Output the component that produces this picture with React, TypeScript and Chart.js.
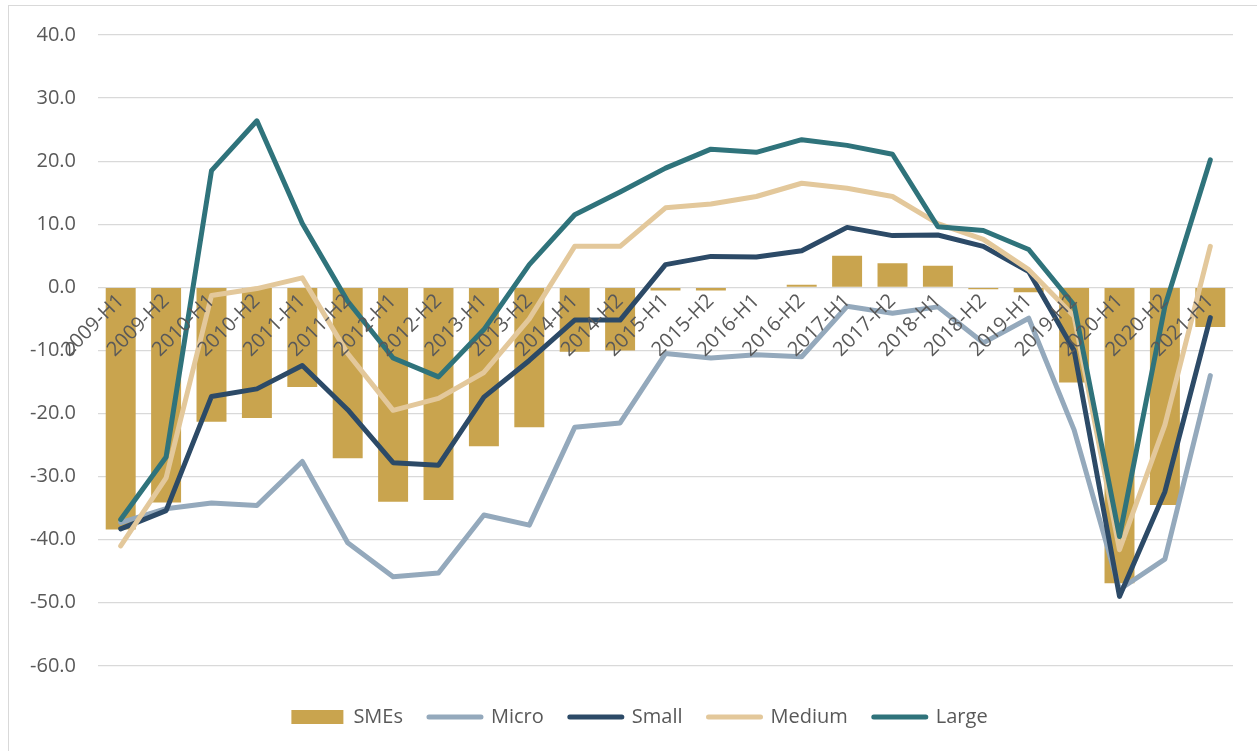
import React, { useEffect, useRef } from "react";
import { Chart, registerables } from "chart.js";

Chart.register(...registerables);

const categories = [
  "2009-H1", "2009-H2", "2010-H1", "2010-H2", "2011-H1", "2011-H2", "2012-H1", "2012-H2",
  "2013-H1", "2013-H2", "2014-H1", "2014-H2", "2015-H1", "2015-H2", "2016-H1", "2016-H2",
  "2017-H1", "2017-H2", "2018-H1", "2018-H2", "2019-H1", "2019-H2", "2020-H1", "2020-H2", "2021-H1",
];

const smes = [-38.4, -34.1, -21.3, -20.7, -15.8, -27.1, -34.0, -33.7, -25.2, -22.2, -10.2, -10.0, -0.5, -0.5, 0.0, 0.4, 5.0, 3.8, 3.4, -0.3, -0.8, -15.1, -46.9, -34.5, -6.3];
const micro = [-37.3, -35.1, -34.2, -34.6, -27.6, -40.5, -45.9, -45.3, -36.1, -37.7, -22.2, -21.5, -10.5, -11.2, -10.7, -11.0, -3.0, -4.1, -3.1, -8.8, -4.9, -22.6, -47.9, -43.1, -14.0];
const small = [-38.3, -35.4, -17.3, -16.1, -12.4, -19.4, -27.8, -28.2, -17.4, -11.6, -5.2, -5.2, 3.6, 4.9, 4.8, 5.8, 9.5, 8.2, 8.3, 6.5, 2.5, -10.0, -49.0, -32.4, -4.8];
const medium = [-41.0, -30.2, -1.3, -0.2, 1.5, -10.5, -19.5, -17.6, -13.5, -5.0, 6.5, 6.5, 12.6, 13.2, 14.4, 16.5, 15.7, 14.4, 10.1, 7.6, 2.8, -4.6, -41.6, -21.8, 6.5];
const large = [-36.8, -26.9, 18.5, 26.4, 10.1, -2.2, -11.2, -14.2, -6.7, 3.6, 11.5, 15.1, 18.9, 21.9, 21.4, 23.4, 22.5, 21.1, 9.6, 9.0, 6.0, -2.8, -39.5, -3.0, 20.2];

const seriesNames = ["SMEs", "Micro", "Small", "Medium", "Large"];
const seriesColors = ["#c9a44e", "#94a9bc", "#2c4a67", "#e3c89b", "#2f737b"];

const FONT = "'Open Sans', 'DejaVu Sans', sans-serif";
const TEXT = "#595959";

const legendShift = {
  id: "legendShift",
  afterLayout(chart: any) {
    const lg = chart.legend;
    if (lg) {
      lg.left += 10;
      lg.right += 10;
    }
  },
};

export default function App() {
  const ref = useRef<HTMLCanvasElement | null>(null);

  useEffect(() => {
    if (!ref.current) return;
    const lineDs = (i: number, data: number[], order: number) => ({
      type: "line" as const,
      label: seriesNames[i],
      data,
      borderColor: seriesColors[i],
      backgroundColor: seriesColors[i],
      borderWidth: 5,
      pointRadius: 0,
      pointHoverRadius: 0,
      tension: 0,
      borderJoinStyle: "round" as const,
      borderCapStyle: "round" as const,
      order,
    });
    const chart = new Chart(ref.current, {
      type: "bar",
      data: {
        labels: categories,
        datasets: [
          {
            type: "bar",
            label: seriesNames[0],
            data: smes,
            backgroundColor: seriesColors[0],
            borderWidth: 0,
            barPercentage: 0.66,
            categoryPercentage: 1.0,
            order: 10,
          } as any,
          lineDs(1, micro, 4),
          lineDs(2, small, 3),
          lineDs(3, medium, 2),
          lineDs(4, large, 1),
        ],
      },
      options: {
        responsive: false,
        animation: false,
        layout: { padding: { left: 26, right: 24, top: 35, bottom: 14 } },
        plugins: {
          tooltip: { enabled: false },
          legend: {
            position: "bottom",
            title: { display: true, text: " ", font: { size: 1 }, padding: { top: 14, bottom: 0 } },
            labels: {
              usePointStyle: true,
              pointStyleWidth: 52,
              boxHeight: 14,
              padding: 26,
              color: TEXT,
              font: { family: FONT, size: 20 },
              generateLabels: () =>
                seriesNames.map((name, i) => ({
                  text: name,
                  fillStyle: seriesColors[i],
                  strokeStyle: seriesColors[i],
                  lineWidth: i === 0 ? 0 : 5,
                  lineCap: "round" as CanvasLineCap,
                  pointStyle: i === 0 ? "rect" : "line",
                  hidden: false,
                  datasetIndex: i,
                  fontColor: TEXT,
                })),
            },
          },
        },
        scales: {
          x: {
            type: "category",
            position: { y: 0 } as any,
            offset: true,
            grid: { display: false, drawTicks: false },
            border: { display: false },
            ticks: {
              z: 1,
              autoSkip: false,
              minRotation: 45,
              maxRotation: 45,
              padding: 2,
              color: TEXT,
              font: { family: FONT, size: 20 },
            },
          },
          y: {
            min: -60,
            max: 40,
            grid: { color: "#d9d9d9", lineWidth: 1.2, drawTicks: false },
            border: { display: false },
            afterFit: (scale: any) => {
              scale.width = 72;
            },
            ticks: {
              stepSize: 10,
              padding: 22,
              color: TEXT,
              font: { family: FONT, size: 20 },
              callback: (v: any) => Number(v).toFixed(1),
            },
          },
        },
      },
      plugins: [legendShift],
    } as any);
    return () => chart.destroy();
  }, []);

  return (
    <div style={{ position: "fixed", left: 0, top: 0, width: 1257, height: 751, overflow: "hidden", background: "#fff" }}>
      <div
        style={{
          position: "absolute",
          left: 8,
          top: 5,
          width: 1400,
          height: 900,
          borderTop: "1.5px solid #d9d9d9",
          borderLeft: "1.5px solid #d9d9d9",
        }}
      />
      <canvas ref={ref} width={1257} height={751} style={{ position: "absolute", left: 0, top: 0 }} />
    </div>
  );
}
